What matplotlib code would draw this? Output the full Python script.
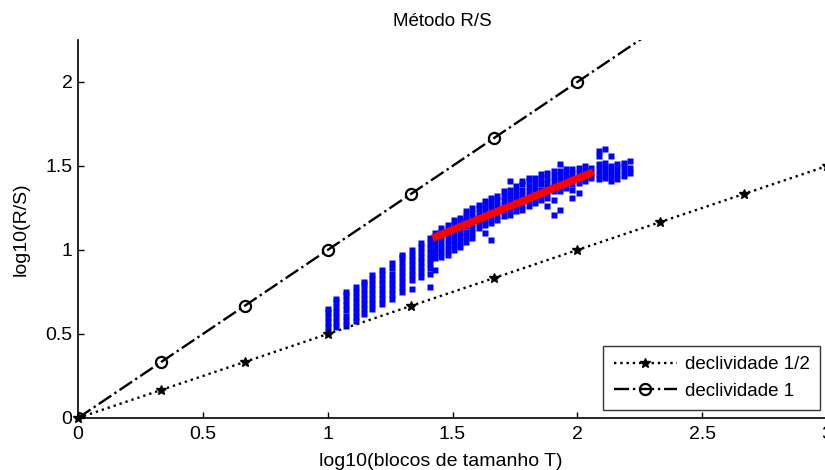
import matplotlib
matplotlib.use("Agg")
import matplotlib.pyplot as plt

plt.rcParams["font.family"] = ["Liberation Sans", "DejaVu Sans"]

# R/S statistic per block size: (log10 block size, list of log10(R/S) values)
rs_x = [1.002, 1.034, 1.074, 1.114, 1.146, 1.178, 1.218, 1.259, 1.299, 1.339,
        1.375, 1.411,
        1.430, 1.455, 1.480, 1.505, 1.530, 1.555, 1.580, 1.605, 1.630, 1.655,
        1.680, 1.705, 1.730, 1.755, 1.780, 1.805, 1.830, 1.855, 1.880, 1.905,
        1.930, 1.955, 1.980, 2.005, 2.030, 2.055, 2.085, 2.110, 2.135, 2.160,
        2.185, 2.210]
rs_y = [
    [0.51, 0.54, 0.57, 0.60, 0.63, 0.65],
    [0.54, 0.57, 0.60, 0.63, 0.66, 0.69, 0.71],
    [0.55, 0.58, 0.61, 0.64, 0.67, 0.70, 0.73, 0.75],
    [0.58, 0.60, 0.63, 0.66, 0.69, 0.72, 0.75, 0.78],
    [0.62, 0.65, 0.68, 0.71, 0.74, 0.77, 0.80, 0.81],
    [0.65, 0.68, 0.71, 0.74, 0.77, 0.80, 0.83, 0.85],
    [0.68, 0.71, 0.74, 0.77, 0.80, 0.83, 0.86, 0.88],
    [0.71, 0.74, 0.77, 0.80, 0.83, 0.86, 0.89, 0.92],
    [0.75, 0.78, 0.81, 0.84, 0.87, 0.90, 0.93, 0.96, 0.97],
    [0.77, 0.82, 0.85, 0.88, 0.91, 0.94, 0.97, 1.00],
    [0.84, 0.87, 0.90, 0.93, 0.96, 0.99, 1.02, 1.04],
    [0.78, 0.86, 0.89, 0.92, 0.95, 0.98, 1.01, 1.04, 1.07],
    [0.88, 0.95, 0.98, 1.01, 1.04, 1.07, 1.10],
    [0.96, 0.99, 1.02, 1.05, 1.08, 1.11, 1.13],
    [0.97, 1.00, 1.03, 1.06, 1.09, 1.12, 1.15],
    [1.00, 1.03, 1.06, 1.09, 1.12, 1.15, 1.18],
    [1.02, 1.05, 1.08, 1.11, 1.14, 1.17, 1.19],
    [1.05, 1.08, 1.11, 1.14, 1.17, 1.20, 1.23],
    [1.07, 1.10, 1.13, 1.16, 1.19, 1.22, 1.25],
    [1.13, 1.16, 1.19, 1.22, 1.25, 1.27],
    [1.10, 1.15, 1.18, 1.21, 1.24, 1.27, 1.29],
    [1.06, 1.16, 1.19, 1.22, 1.25, 1.28, 1.31],
    [1.18, 1.21, 1.24, 1.27, 1.30, 1.32],
    [1.20, 1.23, 1.26, 1.29, 1.32, 1.35],
    [1.21, 1.24, 1.27, 1.30, 1.33, 1.36, 1.41],
    [1.23, 1.26, 1.29, 1.32, 1.35, 1.38],
    [1.24, 1.27, 1.30, 1.33, 1.36, 1.39, 1.41],
    [1.26, 1.29, 1.32, 1.35, 1.38, 1.41, 1.43],
    [1.28, 1.31, 1.34, 1.37, 1.40, 1.43],
    [1.30, 1.33, 1.36, 1.39, 1.42, 1.45],
    [1.26, 1.31, 1.34, 1.37, 1.40, 1.43, 1.46],
    [1.21, 1.30, 1.35, 1.38, 1.41, 1.44, 1.47],
    [1.24, 1.35, 1.38, 1.41, 1.44, 1.47, 1.51],
    [1.37, 1.40, 1.43, 1.46, 1.48],
    [1.31, 1.36, 1.39, 1.42, 1.45, 1.48],
    [1.34, 1.40, 1.43, 1.46, 1.49],
    [1.41, 1.44, 1.47, 1.50],
    [1.43, 1.46, 1.49],
    [1.42, 1.45, 1.48, 1.51, 1.56, 1.59],
    [1.43, 1.46, 1.49, 1.52, 1.60],
    [1.41, 1.44, 1.47, 1.50, 1.56],
    [1.42, 1.45, 1.48, 1.51],
    [1.44, 1.47, 1.50, 1.52],
    [1.46, 1.49, 1.53],
]

# Least-squares fit over the scaling range
fit_range = [1.42, 2.065]
fit_slope = 0.611
fit_intercept = 0.203

# Reference lines
ref_x = [0, 0.333, 0.667, 1.0, 1.333, 1.667, 2.0, 2.333, 2.667, 3.0]
ref_half = [0, 0.1667, 0.3333, 0.5, 0.6667, 0.8333, 1.0, 1.1667, 1.3333, 1.5]
ref_one = [0, 0.333, 0.667, 1.0, 1.333, 1.667, 2.0, 2.333, 2.667, 3.0]

x_ticks = [0, 0.5, 1, 1.5, 2, 2.5, 3]
y_ticks = [0, 0.5, 1, 1.5, 2]

W, H = 825, 470
fig = plt.figure(figsize=(W / 100, H / 100), dpi=100)
ax = fig.add_axes([78 / W, (H - 418) / H, (827 - 78) / W, 378 / H])

pts_x = [x for x, ys in zip(rs_x, rs_y) for _ in ys]
pts_y = [y for ys in rs_y for y in ys]
ax.plot(pts_x, pts_y, linestyle="none", marker="s", ms=5.0, color="blue",
        mec="none", zorder=2)

fit_y = [fit_intercept + fit_slope * x for x in fit_range]
ax.plot(fit_range, fit_y, color="red", lw=5.5, solid_capstyle="butt", zorder=3)

l_half, = ax.plot(ref_x, ref_half, linestyle=":", color="black", lw=1.7,
                  marker="*", ms=7, mfc="black", mec="black",
                  label="declividade 1/2", zorder=4, clip_on=False)
l_one, = ax.plot(ref_x, ref_one, linestyle="-.", color="black", lw=1.7,
                 marker="o", ms=8, mfc="none", mec="black", mew=1.6,
                 label="declividade 1", zorder=4)

ax.set_xlim(0, 3)
ax.set_ylim(0, 2.25)
ax.set_xticks(x_ticks)
ax.set_xticklabels([f"{t:g}" for t in x_ticks])
ax.set_yticks(y_ticks)
ax.set_yticklabels([f"{t:g}" for t in y_ticks])

for side in ("top", "right"):
    ax.spines[side].set_visible(False)
for side in ("left", "bottom"):
    ax.spines[side].set_linewidth(1.2)
    ax.spines[side].set_color("black")

ax.tick_params(direction="in", length=4.5, width=1.0, labelsize=14,
               colors="black", pad=4)
ax.tick_params(axis="x", pad=6)

ax.set_title("Método R/S", fontsize=13.5, pad=10)
ax.title.set_x(0.486)
ax.set_xlabel("log10(blocos de tamanho T)", fontsize=14)
ax.xaxis.set_label_coords(0.484, -0.093)
ax.set_ylabel("log10(R/S)", fontsize=14)
ax.yaxis.set_label_coords(-0.064, 0.5)

leg = ax.legend(handles=[l_half, l_one], loc="lower right",
                bbox_to_anchor=(820 / W, (H - 410) / H),
                bbox_transform=fig.transFigure, fontsize=13.5,
                frameon=True, fancybox=False, edgecolor="black",
                handlelength=3.4, handletextpad=0.4, labelspacing=0.5,
                borderpad=0.55, borderaxespad=0)
leg.get_frame().set_linewidth(1.0)

fig.savefig("out.png", dpi=100)
